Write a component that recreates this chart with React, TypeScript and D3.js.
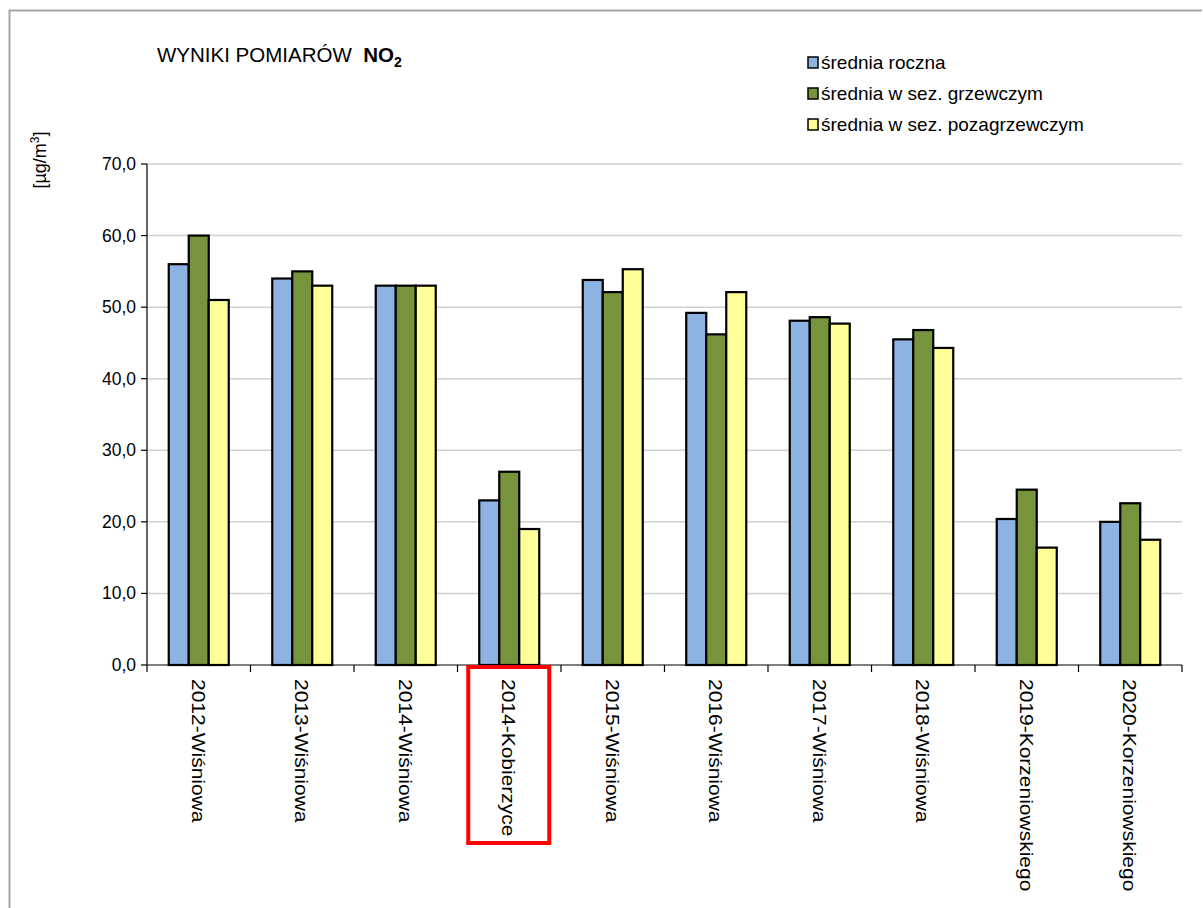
import React from 'react';
import { scaleLinear, scaleBand, range } from 'd3';

const categories = [
    '2012-Wiśniowa', '2013-Wiśniowa', '2014-Wiśniowa', '2014-Kobierzyce', '2015-Wiśniowa',
    '2016-Wiśniowa', '2017-Wiśniowa', '2018-Wiśniowa', '2019-Korzeniowskiego', '2020-Korzeniowskiego'
];
const sredniaRoczna = [56.0, 54.0, 53.0, 23.0, 53.8, 49.2, 48.1, 45.5, 20.4, 20.0];
const sredniaGrzewczy = [60.0, 55.0, 53.0, 27.0, 52.1, 46.2, 48.6, 46.8, 24.5, 22.6];
const sredniaPozagrzewczy = [51.0, 53.0, 53.0, 19.0, 55.3, 52.1, 47.7, 44.3, 16.4, 17.5];
const seriesNames = ['średnia roczna', 'średnia w sez. grzewczym', 'średnia w sez. pozagrzewczym'];
const seriesColors = ['#8db3e2', '#77933c', '#ffff99'];
const yTicks = [0, 10, 20, 30, 40, 50, 60, 70];
const highlighted = '2014-Kobierzyce';

const font = 'Arial, "Liberation Sans", sans-serif';

const App = () => {
    const svgWidth = 1203;
    const svgHeight = 908;
    const margin = { top: 164, left: 147, right: 21, bottom: 243 };
    const plotRight = svgWidth - margin.right;
    const plotBottom = svgHeight - margin.bottom;

    const x = scaleBand<string>().domain(categories).range([margin.left, plotRight]);
    const y = scaleLinear().domain([0, 70]).range([plotBottom, margin.top]);
    const series = [sredniaRoczna, sredniaGrzewczy, sredniaPozagrzewczy];

    const barW = 20;
    const groupW = barW * 3;

    const bars: JSX.Element[] = [];
    categories.forEach((c, i) => {
        const x0 = (x(c) as number) + (x.bandwidth() - groupW) / 2;
        series.forEach((s, j) => {
            bars.push(<rect key={c + j} x={x0 + j * barW} y={y(s[i])} width={barW} height={plotBottom - y(s[i])}
                fill={seriesColors[j]} stroke='#000' strokeWidth={2.2} />);
        });
    });

    const hl = x(highlighted) as number;

    return (
        <svg width={svgWidth} height={svgHeight} style={{ display: 'block', position: 'absolute', left: 0, top: 0 }}>
            <rect x={0} y={0} width={svgWidth} height={svgHeight} fill='#fff' />
            <path d={`M9.5,${svgHeight} V10.5 H1202`} fill='none' stroke='#a6a6a6' strokeWidth={2} />

            <text x={157} y={62} fontFamily={font} fontSize={20.5} fill='#000'>
                WYNIKI POMIARÓW{'\u00a0\u00a0'}<tspan fontWeight='bold'>NO</tspan><tspan fontWeight='bold' fontSize={14} dy={5}>2</tspan>
            </text>

            {seriesNames.map((n, i) => (
                <g key={n} transform={`translate(808,${57 + i * 31})`}>
                    <rect x={0} y={0} width={10} height={11} fill={seriesColors[i]} stroke='#000' strokeWidth={1.5} />
                    <text x={13} y={12} fontFamily={font} fontSize={19} fill='#000'>{n}</text>
                </g>
            ))}

            <text transform='translate(46,160) rotate(-90)' textAnchor='middle' fontFamily={font} fontSize={18} fill='#000'>
                [µg/m<tspan fontSize={12} dy={-7}>3</tspan><tspan dy={7}>]</tspan>
            </text>

            {yTicks.map(t => (
                <g key={t}>
                    {t > 0 && <line x1={margin.left} x2={plotRight} y1={y(t)} y2={y(t)} stroke='#d0d0d0' strokeWidth={1.5} />}
                    <line x1={margin.left - 6} x2={margin.left} y1={y(t)} y2={y(t)} stroke='#000' strokeWidth={1.2} />
                    <text x={margin.left - 11} y={y(t) + 6} textAnchor='end' fontFamily={font} fontSize={17.5} fill='#000'>
                        {t.toFixed(1).replace('.', ',')}
                    </text>
                </g>
            ))}

            {bars}

            <line x1={margin.left} x2={margin.left} y1={margin.top} y2={plotBottom} stroke='#000' strokeWidth={1.2} />
            <line x1={margin.left} x2={plotRight} y1={plotBottom} y2={plotBottom} stroke='#000' strokeWidth={1.2} />
            {range(categories.length + 1).map(i => {
                const xx = margin.left + i * x.step();
                return <line key={i} x1={xx} x2={xx} y1={plotBottom} y2={plotBottom + 7} stroke='#000' strokeWidth={1.2} />;
            })}

            {categories.map(c => {
                const cx = (x(c) as number) + x.bandwidth() / 2;
                return (
                    <text key={c} transform={`translate(${cx - 7},${plotBottom + 14}) rotate(90) scale(1,0.88)`}
                        fontFamily={font} fontSize={21} fill='#000'>{c}</text>
                );
            })}

            <rect x={hl + x.bandwidth() / 2 - 41} y={plotBottom + 2} width={81} height={176}
                fill='none' stroke='#ff0000' strokeWidth={4} />
        </svg>
    );
};

export default App;
